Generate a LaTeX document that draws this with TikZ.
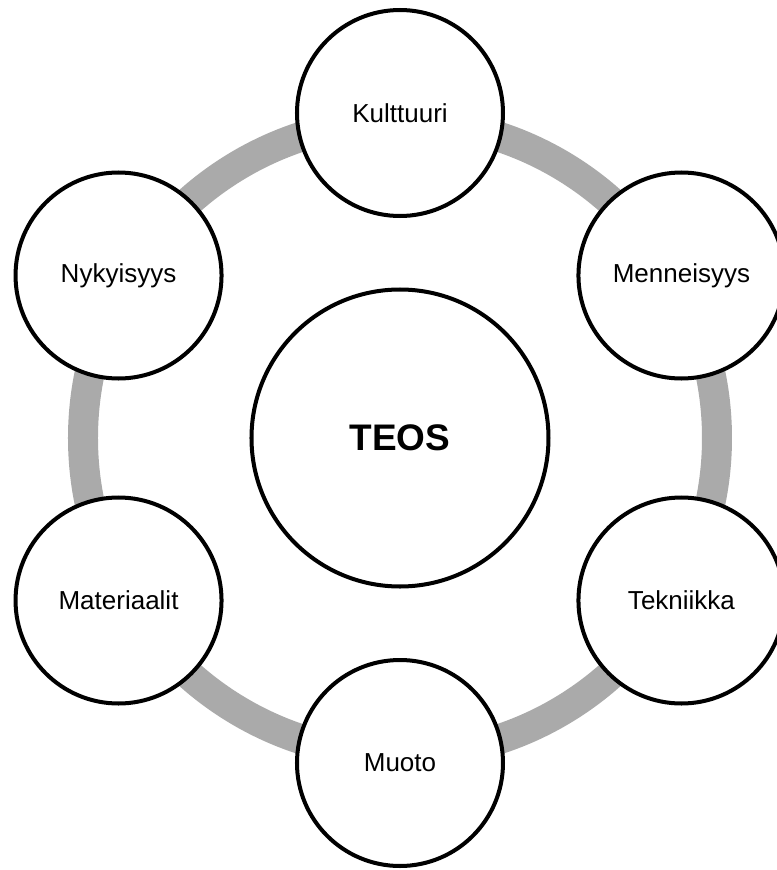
\documentclass[tikz,border=0pt]{standalone}
\usepackage{fontspec}
\setmainfont{Liberation Sans}
\definecolor{ringgray}{RGB}{170,170,170}
\tikzset{
    topic/.style={circle, draw, fill=white, line width=2.85pt,
                  minimum size=5.15cm, inner sep=0pt, align=center,
                  font=\fontsize{18.5}{22}\selectfont},
    hub/.style={topic, minimum size=7.425cm,
                font=\fontsize{26.3}{30}\selectfont\bfseries},
    ring/.style={draw=ringgray, line width=0.75cm},
}
\begin{document}
\begin{tikzpicture}
    \path[use as bounding box] (-10,-10.8) rectangle (9.425,10.95);

    \coordinate (middle) at (0,0);
    \draw[ring] (middle) circle (7.925cm);

    \node[hub] (teos) at (middle) {TEOS};

    \node[topic] (kulttuuri) at (90:8.125) {Kulttuuri};
    \node[topic] (menneisyys) at (30:8.125) {Menneisyys};
    \node[topic] (tekniikka) at (-30:8.125) {Tekniikka};
    \node[topic] (muoto) at (-90:8.125) {Muoto};
    \node[topic] (materiaalit) at (-150:8.125) {Materiaalit};
    \node[topic] (nykyisyys) at (150:8.125) {Nykyisyys};
\end{tikzpicture}
\end{document}
